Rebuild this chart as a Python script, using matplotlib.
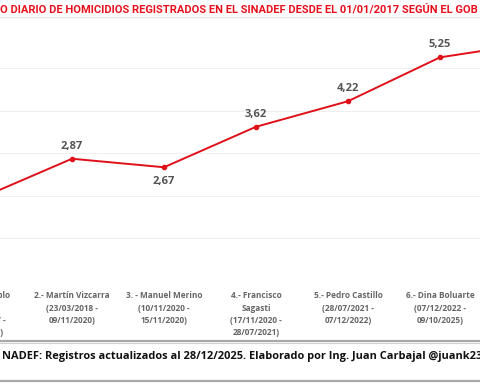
import matplotlib
matplotlib.use("Agg")
import matplotlib.pyplot as plt
from matplotlib.lines import Line2D

categories = [
    "1.- Pedro Pablo\nKuczynski\n(01/01/2017 -\n23/03/2018)",
    "2.- Martín Vizcarra\n(23/03/2018 -\n09/11/2020)",
    "3. - Manuel Merino\n(10/11/2020 -\n15/11/2020)",
    "4.- Francisco\nSagasti\n(17/11/2020 -\n28/07/2021)",
    "5.- Pedro Castillo\n(28/07/2021 -\n07/12/2022)",
    "6.- Dina Boluarte\n(07/12/2022 -\n09/10/2025)",
    "7.- José Jerí\n(10/10/2025 -\n28/12/2025)",
]
values = [1.94, 2.87, 2.67, 3.62, 4.22, 5.25, 5.58]
label_pos = ["above", "above", "below", "above", "above", "above", "above"]
title = "O DIARIO DE HOMICIDIOS REGISTRADOS EN EL SINADEF DESDE EL 01/01/2017 SEGÚN EL GOB"
footer = "NADEF: Registros actualizados al 28/12/2025. Elaborado por Ing. Juan Carbajal @juank23_"

W, H = 480, 384
fig = plt.figure(figsize=(4.8, 3.84), dpi=100)
fig.patch.set_facecolor("white")
renderer = fig.canvas.get_renderer()


def fit_width(t, target_px):
    w = t.get_window_extent(renderer=renderer).width
    t.set_fontsize(t.get_fontsize() * target_px / w)


# axes: index i at pixel x = 72 + (i-1)*92
x0_px, step = -20.0, 92.0
xl = ((0 - x0_px) / step, (W - x0_px) / step)
y_bottom_px, y_top_px = 281.0, 25.4
ax = fig.add_axes([0, (H - y_bottom_px) / H, 1, (y_bottom_px - y_top_px) / H])
ax.set_facecolor("white")
for s in ax.spines.values():
    s.set_visible(False)
x = list(range(len(values)))
ax.plot(x, values, color="#e0101a", linewidth=1.4, marker="o", markersize=3,
        clip_on=False, zorder=3)
ax.set_yticks([1, 2, 3, 4, 5])
ax.yaxis.grid(True, color="#efefef", linewidth=0.8)
ax.tick_params(axis="y", left=False, labelleft=False)
ax.set_xticks([])
ax.set_xlim(*xl)
ax.set_ylim(0, 6)

# category labels under the axis (font scaled so "2.- Martín Vizcarra" ~76 px)
probe = fig.text(0, 0, "2.- Martín Vizcarra", fontsize=7.0, fontweight="bold", family="Open Sans")
cat_fs = 7.0 * 76 / probe.get_window_extent(renderer=renderer).width
probe.remove()
for xi, lab in zip(x, categories):
    ax.annotate(lab, (xi, 0), xycoords=ax.get_xaxis_transform(), xytext=(0, -7.5),
                textcoords="offset points", ha="center", va="top", multialignment="center",
                fontsize=cat_fs, color="#666666", fontweight="bold", family="Open Sans",
                linespacing=1.45, annotation_clip=False)

for xi, v, p in zip(x, values, label_pos):
    off = 5 if p == "above" else -6
    ax.annotate(f"{v:.2f}".replace(".", ","), (xi, v), xytext=(0, off),
                textcoords="offset points", ha="center",
                va="bottom" if p == "above" else "top",
                fontsize=8, color="#555555", fontweight="bold", family="Open Sans")

# title
tt = fig.text(0.0, 1 - 9 / H, title, ha="left", va="center", fontsize=10,
              color="#e8101c", fontweight="bold", family="Roboto")
fit_width(tt, 479)
fig.add_artist(Line2D([0, 1], [1 - 17 / H] * 2, color="#e6e6e6", linewidth=0.8))

# footer frame
fig.add_artist(Line2D([0, 1], [1 - 340.5 / H] * 2, color="#a8a8a8", linewidth=1.6))
fig.add_artist(Line2D([0, 1], [1 - 343 / H] * 2, color="#d0d0d0", linewidth=0.8))
fig.add_artist(Line2D([0, 1], [1 - 381 / H] * 2, color="#a8a8a8", linewidth=1.6))
ft = fig.text(2 / W, 1 - 357 / H, footer, ha="left", va="center", fontsize=9.3,
              color="#111111", fontweight="bold", family="Open Sans")
fit_width(ft, 482)

fig.savefig("out.png", dpi=100, facecolor="white")
